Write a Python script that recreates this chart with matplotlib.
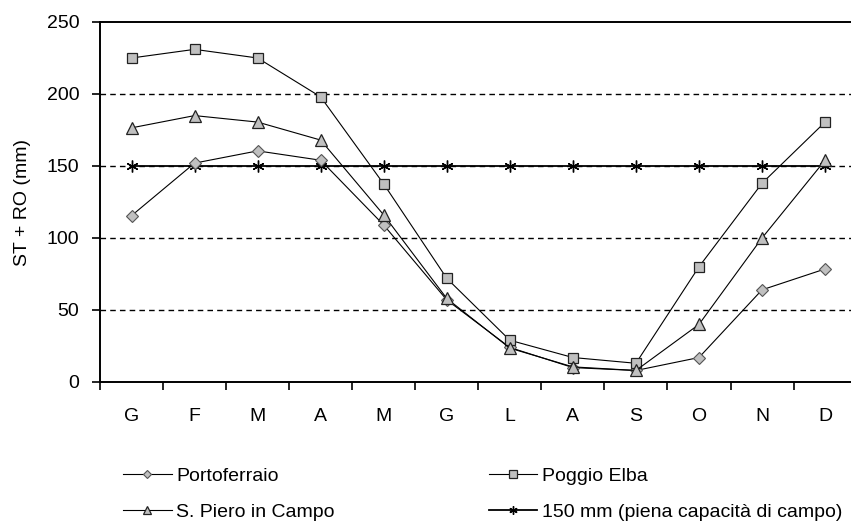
import matplotlib.pyplot as plt
import numpy as np

plt.rcParams['font.family'] = ['Liberation Sans', 'DejaVu Sans']

mesi = ['G', 'F', 'M', 'A', 'M', 'G', 'L', 'A', 'S', 'O', 'N', 'D']
portoferraio = [115.5, 152, 160.5, 154, 109, 57, 24, 10, 8, 17, 64, 78.5]
poggio_elba = [225, 231, 225, 198, 137.5, 72, 29, 17, 13, 80, 138, 180.5]
san_piero = [176.5, 185, 180.5, 168, 116, 58, 23.5, 10.5, 8, 40, 100, 154]
capacita = [150] * 12

fig = plt.figure(figsize=(8.51, 5.22), dpi=100)
ax = fig.add_axes([100 / 851, 140 / 522, 756.6 / 851, 360 / 522])

x = np.arange(len(mesi))
grigio = '#c0c0c0'

l1, = ax.plot(x, portoferraio, color='k', lw=0.8, marker='D', ms=6.5,
              mfc=grigio, mec='#555555', mew=0.8, label='Portoferraio')
l2, = ax.plot(x, poggio_elba, color='k', lw=0.8, marker='s', ms=7.5,
              mfc=grigio, mec='#222222', mew=0.9, label='Poggio Elba')
l3, = ax.plot(x, san_piero, color='k', lw=0.8, marker='^', ms=8,
              mfc=grigio, mec='#222222', mew=0.9, label='S. Piero in Campo')
l4, = ax.plot(x, capacita, color='k', lw=1.3, marker=(6, 2, 0), ms=8.5,
              mew=1.0, label='150 mm (piena capacità di campo)', zorder=1)

# griglia tratteggiata
for yv in [50, 100, 150, 200]:
    ax.axhline(yv, color='k', lw=1.0, ls=(0, (4, 3)), zorder=0)

ax.set_xlim(-0.5, 11.5)
ax.set_ylim(0, 250)
ax.set_yticks([0, 50, 100, 150, 200, 250])
ax.tick_params(axis='y', length=6, width=1.2, pad=9, labelsize=14)
ax.set_xticks(np.arange(-0.5, 12, 1))
ax.set_xticklabels([])
ax.set_xticks(x, minor=True)
ax.set_xticklabels(mesi, minor=True)
ax.tick_params(axis='x', which='major', length=6, width=1.2, direction='out')
ax.tick_params(axis='x', which='minor', length=0, pad=19, labelsize=14)

ax.spines['right'].set_visible(False)
for s in ['left', 'bottom', 'top']:
    ax.spines[s].set_linewidth(1.4)

ax.set_ylabel('ST + RO (mm)', fontsize=14, labelpad=11)

fig.legend(handles=[l1, l3, l2, l4], loc='upper left',
           bbox_to_anchor=(123 / 851, 1 - 467 / 522), ncol=2, frameon=False,
           fontsize=14, handlelength=2.5, handletextpad=0.25,
           columnspacing=7.9, labelspacing=0.95, markerscale=0.7,
           borderpad=0, borderaxespad=0)

plt.savefig('out.png', dpi=100)
